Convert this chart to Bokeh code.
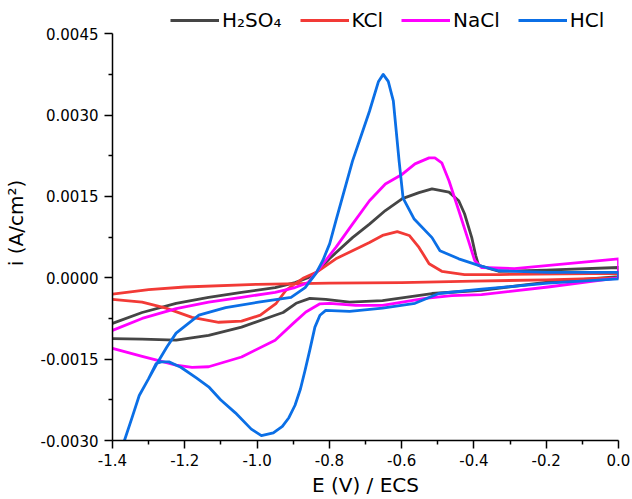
from bokeh.plotting import figure
from bokeh.models import FixedTicker, PrintfTickFormatter, Legend, LegendItem, Range1d
from bokeh.embed import file_html
from bokeh.resources import INLINE

# ---------------- data ----------------
x_ticks = [-1.4, -1.2, -1.0, -0.8, -0.6, -0.4, -0.2, 0.0]
y_ticks = [-0.0030, -0.0015, 0.0000, 0.0015, 0.0030, 0.0045]

# H2SO4 (forward sweep, then reverse sweep)
h2so4_E = [-1.400, -1.318, -1.224, -1.134, -1.043, -0.950, -0.895, -0.859, -0.836, -0.800,
           -0.782, -0.736, -0.689, -0.645, -0.598, -0.552, -0.516, -0.469, -0.442, -0.426,
           -0.406, -0.395, -0.387, -0.332, -0.200, 0.000,
           0.000, -0.195, -0.379, -0.516, -0.653, -0.744, -0.810, -0.854, -0.892, -0.928,
           -0.950, -1.043, -1.134, -1.224, -1.318, -1.400]
h2so4_i = [-0.00084, -0.00064, -0.00047, -0.00036, -0.00027, -0.00018, -0.00009, 0.00000, 0.00010, 0.00035,
           0.00046, 0.00074, 0.00099, 0.00124, 0.00146, 0.00157, 0.00164, 0.00158, 0.00142, 0.00118,
           0.00074, 0.00041, 0.00023, 0.00012, 0.00014, 0.00019,
           0.00002, -0.00008, -0.00023, -0.00029, -0.00042, -0.00045, -0.00040, -0.00038, -0.00047, -0.00064,
           -0.00069, -0.00091, -0.00106, -0.00115, -0.00113, -0.00112]

# KCl
kcl_E = [-1.400, -1.318, -1.252, -1.180, -1.106, -1.043, -0.991, -0.947, -0.920, -0.873,
         -0.836, -0.782, -0.736, -0.689, -0.653, -0.612, -0.579, -0.552, -0.524, -0.489,
         -0.426, -0.332, 0.000,
         0.000, -0.200, -0.400, -0.600, -0.800, -1.000, -1.200, -1.300, -1.400]
kcl_i = [-0.00040, -0.00045, -0.00056, -0.00073, -0.00082, -0.00080, -0.00069, -0.00047, -0.00023, -0.00001,
         0.00010, 0.00035, 0.00050, 0.00065, 0.00078, 0.00085, 0.00078, 0.00056, 0.00026, 0.00012,
         0.00006, 0.00006, 0.00008,
         0.00000, -0.00004, -0.00006, -0.00009, -0.00010, -0.00012, -0.00017, -0.00022, -0.00030]

# NaCl
nacl_E = [-1.400, -1.318, -1.224, -1.134, -1.043, -0.950, -0.895, -0.859, -0.836, -0.782,
          -0.736, -0.689, -0.645, -0.598, -0.563, -0.524, -0.508, -0.489, -0.469, -0.442,
          -0.415, -0.398, -0.379, -0.288, 0.000,
          0.000, -0.195, -0.379, -0.461, -0.535, -0.653, -0.727, -0.799, -0.826, -0.865,
          -0.900, -0.950, -1.043, -1.134, -1.180, -1.224, -1.318, -1.400]
nacl_i = [-0.00097, -0.00075, -0.00057, -0.00045, -0.00036, -0.00027, -0.00018, -0.00009, 0.00010, 0.00056,
          0.00099, 0.00142, 0.00173, 0.00191, 0.00210, 0.00221, 0.00221, 0.00212, 0.00179, 0.00124,
          0.00068, 0.00032, 0.00019, 0.00017, 0.00035,
          0.00000, -0.00017, -0.00031, -0.00033, -0.00038, -0.00051, -0.00051, -0.00047, -0.00048, -0.00063,
          -0.00084, -0.00115, -0.00146, -0.00164, -0.00165, -0.00161, -0.00145, -0.00130]

# HCl
hcl_E = [-1.378, -1.367, -1.345, -1.326, -1.300, -1.276, -1.250, -1.224, -1.161, -1.087,
         -0.996, -0.906, -0.867, -0.837, -0.818, -0.799, -0.782, -0.736, -0.689, -0.664,
         -0.651, -0.637, -0.623, -0.607, -0.596, -0.566, -0.516, -0.494, -0.442, -0.387,
         -0.332, -0.195, 0.000,
         0.000, -0.195, -0.379, -0.497, -0.563, -0.653, -0.744, -0.810, -0.826, -0.840,
         -0.854, -0.867, -0.880, -0.895, -0.912, -0.930, -0.955, -0.988, -1.016, -1.060,
         -1.101, -1.134, -1.167, -1.211, -1.244, -1.265, -1.279, -1.300, -1.326, -1.345,
         -1.367, -1.378]
hcl_i = [-0.00320, -0.00300, -0.00256, -0.00217, -0.00186, -0.00157, -0.00128, -0.00102, -0.00069, -0.00055,
         -0.00045, -0.00036, -0.00018, 0.00008, 0.00032, 0.00063, 0.00105, 0.00215, 0.00307, 0.00362,
         0.00375, 0.00362, 0.00326, 0.00215, 0.00147, 0.00109, 0.00074, 0.00050, 0.00035, 0.00023,
         0.00013, 0.00010, 0.00010,
         -0.00002, -0.00010, -0.00021, -0.00029, -0.00047, -0.00056, -0.00062, -0.00060, -0.00069, -0.00091,
         -0.00133, -0.00170, -0.00205, -0.00235, -0.00258, -0.00274, -0.00286, -0.00291, -0.00279, -0.00249,
         -0.00225, -0.00201, -0.00185, -0.00165, -0.00155, -0.00155, -0.00158, -0.00186, -0.00217, -0.00256,
         -0.00300, -0.00320]

names = ["H\u2082SO\u2084", "KCl", "NaCl", "HCl"]
colors = ["#454545", "#f23a36", "#ff00ff", "#0b6fe6"]

# ---------------- figure ----------------
FONT = "DejaVu Sans"
# the frame reaches above 0.0045 so that the legend (drawn inside the frame) sits above the axis top
p = figure(width=632, height=499, output_backend="svg", toolbar_location=None,
           x_range=Range1d(-1.4, 0.0), y_range=Range1d(-0.0030, 0.00502),
           min_border_left=108, min_border_right=14, min_border_top=5, min_border_bottom=58)
p.outline_line_color = None
p.grid.visible = False
p.background_fill_color = "white"

series = [(h2so4_E, h2so4_i), (kcl_E, kcl_i), (nacl_E, nacl_i), (hcl_E, hcl_i)]
renderers = []
for (E, I), c in zip(series, colors):
    r = p.line(E, I, line_color=c, line_width=2.8, line_join="round")
    renderers.append(r)

x_minor = [round(t + 0.1, 2) for t in x_ticks[:-1]]
y_minor = [round(t + 0.00075, 6) for t in y_ticks[:-1]]
p.xaxis.ticker = FixedTicker(ticks=x_ticks, minor_ticks=x_minor)
p.yaxis.ticker = FixedTicker(ticks=y_ticks, minor_ticks=y_minor)
p.xaxis.formatter = PrintfTickFormatter(format="%.1f")
p.yaxis.formatter = PrintfTickFormatter(format="%.4f")
p.yaxis.bounds = (y_ticks[0], y_ticks[-1])

for ax in (p.xaxis[0], p.yaxis[0]):
    ax.axis_line_width = 1.5
    ax.axis_line_color = "black"
    ax.major_tick_line_width = 1.5
    ax.minor_tick_line_width = 1.5
    ax.major_tick_out = 8
    ax.major_tick_in = 0
    ax.minor_tick_out = 4
    ax.minor_tick_in = 0
    ax.major_label_text_font = FONT
    ax.major_label_text_font_size = "15px"
    ax.major_label_text_color = "black"
    ax.axis_label_text_font = FONT
    ax.axis_label_text_font_size = "20px"
    ax.axis_label_text_font_style = "normal"
    ax.axis_label_text_color = "black"

p.xaxis.axis_label = "E (V) / ECS"
p.yaxis.axis_label = "i (A/cm\u00b2)"
p.xaxis.major_label_standoff = 5
p.yaxis.major_label_standoff = 6
p.xaxis.axis_label_standoff = 4
p.yaxis.axis_label_standoff = 10

legend = Legend(items=[LegendItem(label=n, renderers=[r]) for n, r in zip(names, renderers)],
                location=(58, 408), orientation="horizontal",
                glyph_width=49, glyph_height=20, label_height=20, label_standoff=3,
                spacing=18, padding=0, margin=0,
                border_line_color=None, background_fill_alpha=0,
                label_text_font=FONT, label_text_font_size="20px", label_text_color="black")
p.add_layout(legend)

open("out.html", "w").write(file_html(p, INLINE))
